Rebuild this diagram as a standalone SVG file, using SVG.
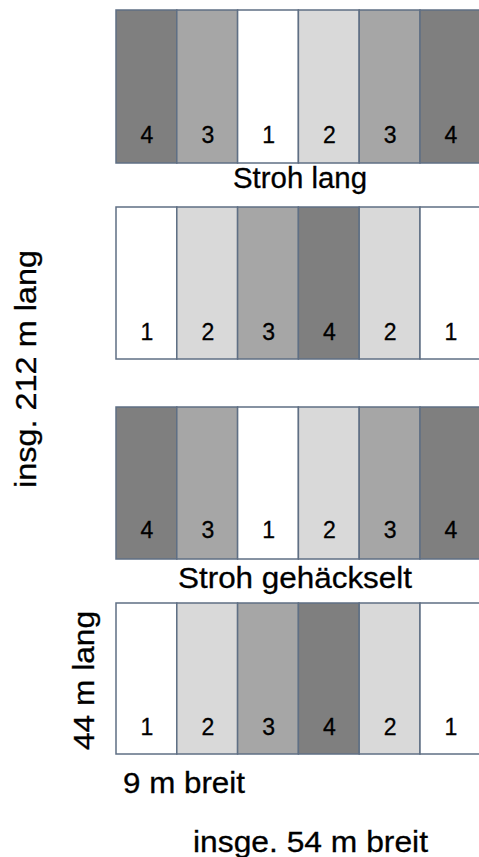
<svg xmlns="http://www.w3.org/2000/svg" width="479" height="857" viewBox="0 0 479 857">
<style>
  .p { stroke: #5f6f84; stroke-width: 1.5; }
  .c1 { fill: #ffffff; }
  .c2 { fill: #d9d9d9; }
  .c3 { fill: #a6a6a6; }
  .c4 { fill: #7f7f7f; }
  .n { font-family: "Liberation Sans", Arial, sans-serif; font-size: 23px; fill: #000; stroke: #000; stroke-width: 0.3; text-anchor: middle; }
  .t { font-family: "Liberation Sans", Arial, sans-serif; font-size: 29px; fill: #000; stroke: #000; stroke-width: 0.3; }
</style>
<rect width="479" height="857" fill="#ffffff"/>

<g id="block1">
  <rect class="p c4" x="116" y="10" width="60.8" height="153"/>
  <rect class="p c3" x="176.8" y="10" width="60.8" height="153"/>
  <rect class="p c1" x="237.6" y="10" width="60.8" height="153"/>
  <rect class="p c2" x="298.4" y="10" width="60.8" height="153"/>
  <rect class="p c3" x="359.2" y="10" width="60.8" height="153"/>
  <rect class="p c4" x="420" y="10" width="60.8" height="153"/>
  <text class="n" x="147" y="143">4</text>
  <text class="n" x="207.8" y="143">3</text>
  <text class="n" x="268.6" y="143">1</text>
  <text class="n" x="329.4" y="143">2</text>
  <text class="n" x="390.2" y="143">3</text>
  <text class="n" x="451" y="143">4</text>
</g>
<text id="label-stroh-lang" class="t" x="233" y="188" textLength="134" lengthAdjust="spacingAndGlyphs">Stroh lang</text>

<g id="block2">
  <rect class="p c1" x="116" y="207" width="60.8" height="152"/>
  <rect class="p c2" x="176.8" y="207" width="60.8" height="152"/>
  <rect class="p c3" x="237.6" y="207" width="60.8" height="152"/>
  <rect class="p c4" x="298.4" y="207" width="60.8" height="152"/>
  <rect class="p c2" x="359.2" y="207" width="60.8" height="152"/>
  <rect class="p c1" x="420" y="207" width="60.8" height="152"/>
  <text class="n" x="147" y="340">1</text>
  <text class="n" x="207.8" y="340">2</text>
  <text class="n" x="268.6" y="340">3</text>
  <text class="n" x="329.4" y="340">4</text>
  <text class="n" x="390.2" y="340">2</text>
  <text class="n" x="451" y="340">1</text>
</g>

<g id="block3">
  <rect class="p c4" x="116" y="407" width="60.8" height="152"/>
  <rect class="p c3" x="176.8" y="407" width="60.8" height="152"/>
  <rect class="p c1" x="237.6" y="407" width="60.8" height="152"/>
  <rect class="p c2" x="298.4" y="407" width="60.8" height="152"/>
  <rect class="p c3" x="359.2" y="407" width="60.8" height="152"/>
  <rect class="p c4" x="420" y="407" width="60.8" height="152"/>
  <text class="n" x="147" y="538">4</text>
  <text class="n" x="207.8" y="538">3</text>
  <text class="n" x="268.6" y="538">1</text>
  <text class="n" x="329.4" y="538">2</text>
  <text class="n" x="390.2" y="538">3</text>
  <text class="n" x="451" y="538">4</text>
</g>
<text id="label-stroh-gehaeckselt" class="t" x="178" y="588" textLength="234" lengthAdjust="spacingAndGlyphs">Stroh gehäckselt</text>

<g id="block4">
  <rect class="p c1" x="116" y="603" width="60.8" height="151"/>
  <rect class="p c2" x="176.8" y="603" width="60.8" height="151"/>
  <rect class="p c3" x="237.6" y="603" width="60.8" height="151"/>
  <rect class="p c4" x="298.4" y="603" width="60.8" height="151"/>
  <rect class="p c2" x="359.2" y="603" width="60.8" height="151"/>
  <rect class="p c1" x="420" y="603" width="60.8" height="151"/>
  <text class="n" x="147" y="735">1</text>
  <text class="n" x="207.8" y="735">2</text>
  <text class="n" x="268.6" y="735">3</text>
  <text class="n" x="329.4" y="735">4</text>
  <text class="n" x="390.2" y="735">2</text>
  <text class="n" x="451" y="735">1</text>
</g>

<text id="label-44m" class="t" transform="translate(94,750) rotate(-90)" x="0" y="0" textLength="139" lengthAdjust="spacingAndGlyphs">44 m lang</text>
<text id="label-212m" class="t" transform="translate(36,488) rotate(-90)" x="0" y="0" textLength="238" lengthAdjust="spacingAndGlyphs">insg. 212 m lang</text>
<text id="label-9m" class="t" x="123" y="793" textLength="122" lengthAdjust="spacingAndGlyphs">9 m breit</text>
<text id="label-54m" class="t" x="193" y="852" textLength="235" lengthAdjust="spacingAndGlyphs">insge. 54 m breit</text>
</svg>
